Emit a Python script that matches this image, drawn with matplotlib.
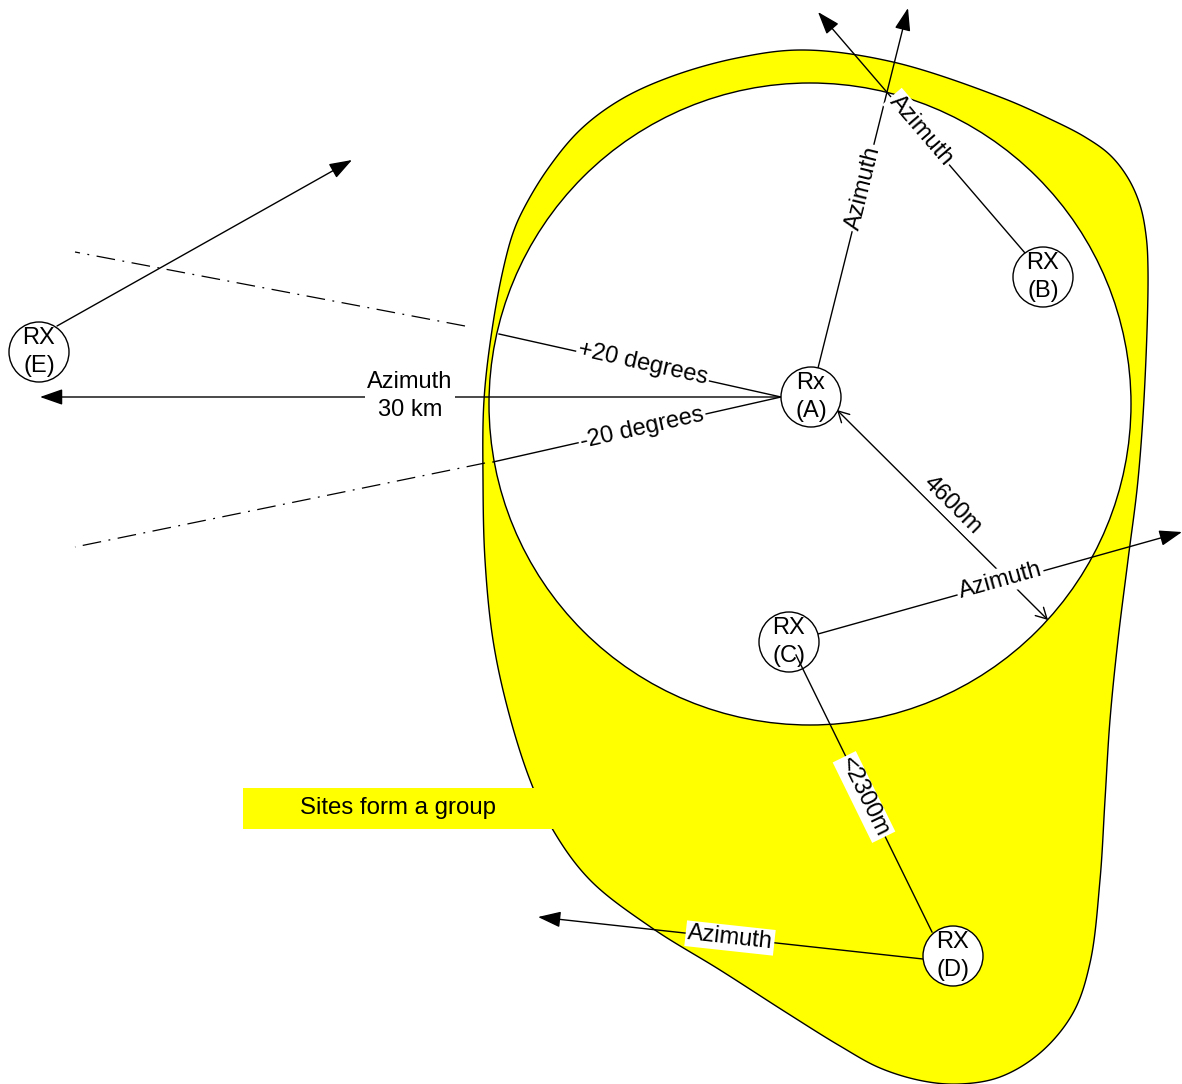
import numpy as np
import matplotlib
matplotlib.use('Agg')
import matplotlib.pyplot as plt
from matplotlib.patches import Circle, Rectangle, Polygon

plt.rcParams['font.family'] = ['Liberation Sans', 'DejaVu Sans']
FS = 17

# outline of the group area (pixel coords, clockwise from the top)
blob_x = [803, 893, 1000, 1050, 1085, 1110, 1128, 1140, 1146, 1148, 1145, 1138, 1128, 1118, 1110, 1105,
          1100, 1090, 1073, 1040, 1000, 960, 923, 880, 840, 787, 720, 652, 590, 553, 530, 508,
          493, 485, 483, 484, 492, 503, 513, 523, 547, 580, 620, 670, 737]
blob_y = [50, 62, 97, 119, 137, 155, 178, 205, 235, 270, 380, 480, 560, 640, 720, 800,
          880, 963, 1013, 1053, 1077, 1084, 1081, 1068, 1046, 1013, 970, 928, 880, 830, 780, 710,
          640, 560, 480, 400, 330, 270, 233, 210, 170, 130, 100, 77, 58]

# 4600m coverage circle round site A
ring_center = (810, 404)
ring_radius = 321

# receiver sites
site_names = ['Rx\n(A)', 'RX\n(B)', 'RX\n(C)', 'RX\n(D)', 'RX\n(E)']
site_x = [811, 1043, 789, 953, 39]
site_y = [397, 277, 642, 956, 352]
site_r = 30

# azimuth arrows: start -> tip, label, label position
az_start = [(818, 368), (1025, 253), (818, 634), (923, 959), (57, 326), (781, 397)]
az_tip = [(908, 8), (818, 12), (1182, 532), (538, 917), (352, 160), (40, 397)]
az_label = ['Azimuth', 'Azimuth', 'Azimuth', 'Azimuth', None, 'Azimuth\n30 km']
az_label_pos = [(863, 188), (921, 130), (1000, 581), (730, 938), None, (410, 396)]

# +/-20 degree sector lines
sector_start = [(781, 397), (781, 397)]
sector_end = [(499, 334), (493, 462)]
sector_dash_a = [(465, 326), (485, 463)]
sector_dash_b = [(75, 252), (75, 547)]
sector_label = ['+20 degrees', '-20 degrees']
sector_label_pos = [(643, 364), (642, 428)]

# distance markers
dist_a = [(837, 410), (796, 655)]
dist_b = [(1048, 620), (932, 932)]
dist_label = ['4600m', '<2300m']
dist_label_pos = [(952, 505), (864, 797)]

group_label = 'Sites form a group'


def text_angle(p, q):
    # screen-space angle, y axis points down, keep text upright
    ang = -np.degrees(np.arctan2(q[1] - p[1], q[0] - p[0]))
    if ang > 90:
        ang -= 180
    if ang < -90:
        ang += 180
    return ang


def smooth_closed(xs, ys, steps=24):
    # centripetal catmull-rom through the outline points
    pts = np.column_stack([xs, ys]).astype(float)
    n = len(pts)
    out = []
    for i in range(n):
        p0, p1, p2, p3 = pts[i - 1], pts[i], pts[(i + 1) % n], pts[(i + 2) % n]
        t0 = 0.0
        t1 = t0 + np.linalg.norm(p1 - p0) ** 0.5
        t2 = t1 + np.linalg.norm(p2 - p1) ** 0.5
        t3 = t2 + np.linalg.norm(p3 - p2) ** 0.5
        for t in np.linspace(t1, t2, steps, endpoint=False):
            a1 = (t1 - t) / (t1 - t0) * p0 + (t - t0) / (t1 - t0) * p1
            a2 = (t2 - t) / (t2 - t1) * p1 + (t - t1) / (t2 - t1) * p2
            a3 = (t3 - t) / (t3 - t2) * p2 + (t - t2) / (t3 - t2) * p3
            b1 = (t2 - t) / (t2 - t0) * a1 + (t - t0) / (t2 - t0) * a2
            b2 = (t3 - t) / (t3 - t1) * a2 + (t - t1) / (t3 - t1) * a3
            out.append((t2 - t) / (t2 - t1) * b1 + (t - t1) / (t2 - t1) * b2)
    return np.array(out)


fig = plt.figure(figsize=(11.82, 10.84), dpi=100)
ax = fig.add_axes([0, 0, 1, 1])
ax.set_xlim(0, 1182)
ax.set_ylim(1084, 0)
ax.axis('off')

ax.add_patch(Polygon(smooth_closed(blob_x, blob_y), closed=True, fc='#ffff00', ec='black', lw=1.0, zorder=1))
ax.add_patch(Circle(ring_center, ring_radius, fc='white', ec='black', lw=1.0, zorder=1.5))
ax.add_patch(Rectangle((243, 788), 320, 41, fc='#ffff00', ec='none', zorder=1.6))
ax.text(398, 808, group_label, fontsize=FS + 0.3, ha='center', va='center', zorder=1.7)

box = dict(boxstyle='square,pad=0.08', fc='white', ec='none')

for s, t, lab, pos in zip(az_start, az_tip, az_label, az_label_pos):
    ax.annotate('', xy=t, xytext=s,
                arrowprops=dict(arrowstyle='-|>,head_length=1.0,head_width=0.35', mutation_scale=14,
                                color='black', lw=1.0, shrinkA=0, shrinkB=0), zorder=2)
    if lab:
        rot = 0 if '\n' in lab else text_angle(s, t)
        ax.text(pos[0], pos[1], lab, fontsize=FS, ha='center', va='center', rotation=rot,
                rotation_mode='anchor', linespacing=1.35, bbox=box, zorder=3)

for s, e, da, db, lab, pos in zip(sector_start, sector_end, sector_dash_a, sector_dash_b,
                                  sector_label, sector_label_pos):
    ax.plot([s[0], e[0]], [s[1], e[1]], color='black', lw=1.0, zorder=2)
    ax.plot([da[0], db[0]], [da[1], db[1]], color='black', lw=0.9,
            linestyle=(0, (15, 6, 1.5, 6)), zorder=2)
    ax.text(pos[0], pos[1], lab, fontsize=FS, ha='center', va='center', rotation=text_angle(s, e),
            rotation_mode='anchor', bbox=box, zorder=3)

# 4600m with open heads both ends
ax.annotate('', xy=dist_b[0], xytext=dist_a[0],
            arrowprops=dict(arrowstyle='<->,head_length=0.55,head_width=0.3', mutation_scale=14,
                            color='black', lw=1.0, shrinkA=0, shrinkB=0), zorder=2)
ax.text(dist_label_pos[0][0], dist_label_pos[0][1], dist_label[0], fontsize=FS, ha='center',
        va='center', rotation=text_angle(dist_a[0], dist_b[0]), rotation_mode='anchor', bbox=box, zorder=2.5)

for name, x, y in zip(site_names, site_x, site_y):
    ax.add_patch(Circle((x, y), site_r, fc='white', ec='black', lw=1.0, zorder=4))
    ax.text(x, y, name, fontsize=FS, ha='center', va='center', linespacing=1.4, zorder=4.5)

# C -> D spacing line sits on top of the C circle
ax.plot([dist_a[1][0], dist_b[1][0]], [dist_a[1][1], dist_b[1][1]], color='black', lw=1.0, zorder=5)
ax.text(dist_label_pos[1][0], dist_label_pos[1][1], dist_label[1], fontsize=FS, ha='center',
        va='center', rotation=text_angle(dist_a[1], dist_b[1]), rotation_mode='anchor', bbox=box, zorder=5.5)

fig.savefig('out.png', dpi=100)
